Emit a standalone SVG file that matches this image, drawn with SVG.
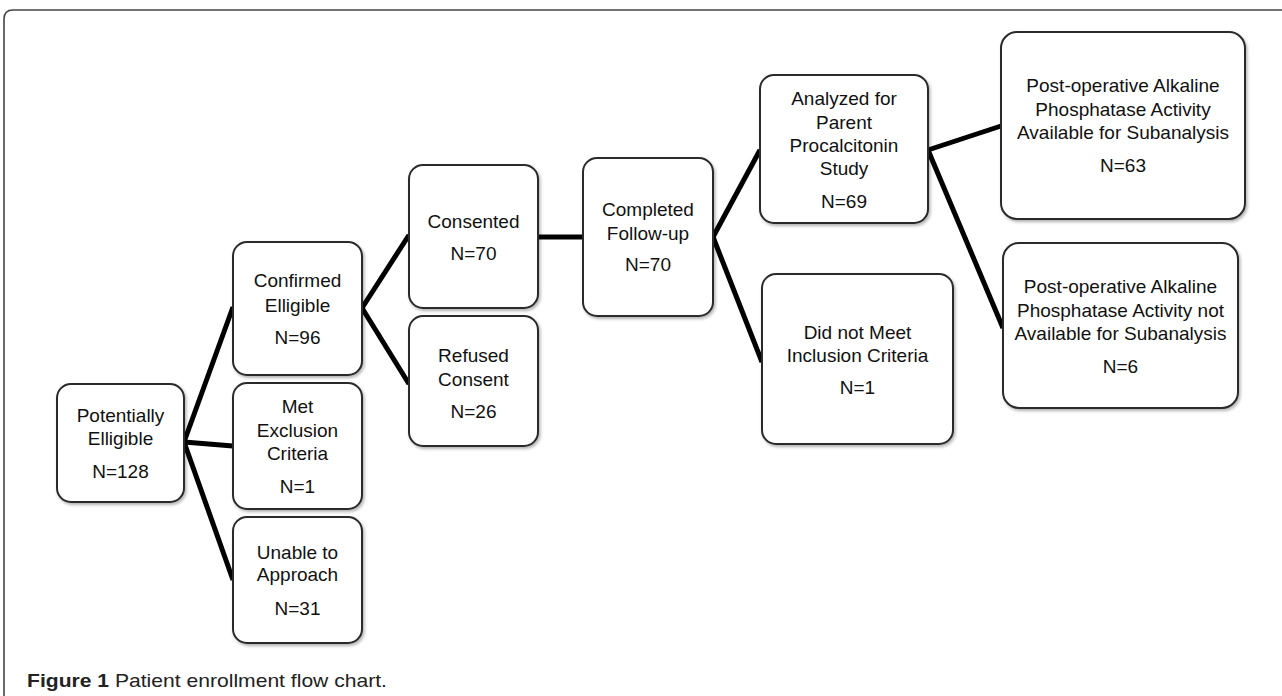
<svg xmlns="http://www.w3.org/2000/svg" width="1282" height="696" viewBox="0 0 1282 696">
<style>
.box{fill:#fff;stroke:#2a2a2a;stroke-width:2;filter:url(#sh)}
.t{font-family:"Liberation Sans",Arial,sans-serif;font-size:19px;fill:#111;text-anchor:middle}
.c{stroke:#000;stroke-width:5;fill:none;stroke-linecap:butt}
.cap{font-family:"Liberation Sans",Arial,sans-serif;font-size:19px;fill:#222}
</style>
<defs>
<filter id="sh" x="-10%" y="-10%" width="125%" height="125%">
<feDropShadow dx="1.5" dy="2" stdDeviation="1.5" flood-color="#000" flood-opacity="0.3"/>
</filter>
</defs>
<rect width="1282" height="696" fill="#fff"/>
<path d="M4,696 V19 Q4,10 13,10 H1282" fill="none" stroke="#444" stroke-width="1.6"/>
<g id="connectors">
<line class="c" x1="184" y1="442" x2="233" y2="307"/>
<line class="c" x1="184" y1="442" x2="233" y2="446"/>
<line class="c" x1="184" y1="442" x2="233" y2="580"/>
<line class="c" x1="362" y1="308" x2="409" y2="235"/>
<line class="c" x1="362" y1="308" x2="409" y2="384"/>
<line class="c" x1="537" y1="237" x2="584" y2="237" stroke-width="6"/>
<line class="c" x1="713" y1="237" x2="760" y2="150"/>
<line class="c" x1="713" y1="237" x2="762" y2="362"/>
<line class="c" x1="928" y1="150" x2="1001" y2="126"/>
<line class="c" x1="928" y1="150" x2="1003" y2="328"/>
</g>
<g id="potentially">
<rect class="box" x="57" y="384" width="127" height="118" rx="14"/>
<text class="t" x="120.5" y="422">Potentially</text>
<text class="t" x="120.5" y="445">Elligible</text>
<text class="t" x="120.5" y="478">N=128</text>
</g>
<g id="confirmed">
<rect class="box" x="233" y="242" width="129" height="133" rx="14"/>
<text class="t" x="297.5" y="287">Confirmed</text>
<text class="t" x="297.5" y="312">Elligible</text>
<text class="t" x="297.5" y="344">N=96</text>
</g>
<g id="met">
<rect class="box" x="233" y="383" width="129" height="126" rx="14"/>
<text class="t" x="297.5" y="413">Met</text>
<text class="t" x="297.5" y="437">Exclusion</text>
<text class="t" x="297.5" y="460">Criteria</text>
<text class="t" x="297.5" y="493">N=1</text>
</g>
<g id="unable">
<rect class="box" x="233" y="517" width="129" height="126" rx="14"/>
<text class="t" x="297.5" y="559">Unable to</text>
<text class="t" x="297.5" y="581">Approach</text>
<text class="t" x="297.5" y="615">N=31</text>
</g>
<g id="consented">
<rect class="box" x="409" y="165" width="129" height="143" rx="14"/>
<text class="t" x="473.5" y="228">Consented</text>
<text class="t" x="473.5" y="260">N=70</text>
</g>
<g id="refused">
<rect class="box" x="409" y="316" width="129" height="130" rx="14"/>
<text class="t" x="473.5" y="362">Refused</text>
<text class="t" x="473.5" y="386">Consent</text>
<text class="t" x="473.5" y="418">N=26</text>
</g>
<g id="completed">
<rect class="box" x="583" y="158" width="130" height="158" rx="14"/>
<text class="t" x="648" y="216">Completed</text>
<text class="t" x="648" y="240">Follow-up</text>
<text class="t" x="648" y="271">N=70</text>
</g>
<g id="analyzed">
<rect class="box" x="760" y="75" width="168" height="148" rx="14"/>
<text class="t" x="844" y="105">Analyzed for</text>
<text class="t" x="844" y="129">Parent</text>
<text class="t" x="844" y="152">Procalcitonin</text>
<text class="t" x="844" y="175">Study</text>
<text class="t" x="844" y="208">N=69</text>
</g>
<g id="didnotmeet">
<rect class="box" x="762" y="274" width="191" height="170" rx="14"/>
<text class="t" x="857.5" y="339">Did not Meet</text>
<text class="t" x="857.5" y="362">Inclusion Criteria</text>
<text class="t" x="857.5" y="394">N=1</text>
</g>
<g id="postop-available">
<rect class="box" x="1001" y="32" width="244" height="187" rx="16"/>
<text class="t" x="1123" y="92">Post-operative Alkaline</text>
<text class="t" x="1123" y="116">Phosphatase Activity</text>
<text class="t" x="1123" y="139">Available for Subanalysis</text>
<text class="t" x="1123" y="172">N=63</text>
</g>
<g id="postop-notavailable">
<rect class="box" x="1003" y="243" width="235" height="165" rx="16"/>
<text class="t" x="1120.5" y="293">Post-operative Alkaline</text>
<text class="t" x="1120.5" y="317">Phosphatase Activity not</text>
<text class="t" x="1120.5" y="340">Available for Subanalysis</text>
<text class="t" x="1120.5" y="373">N=6</text>
</g>
<text class="cap" x="27" y="687" textLength="360" lengthAdjust="spacingAndGlyphs"><tspan font-weight="bold">Figure 1</tspan> Patient enrollment flow chart.</text>
</svg>
